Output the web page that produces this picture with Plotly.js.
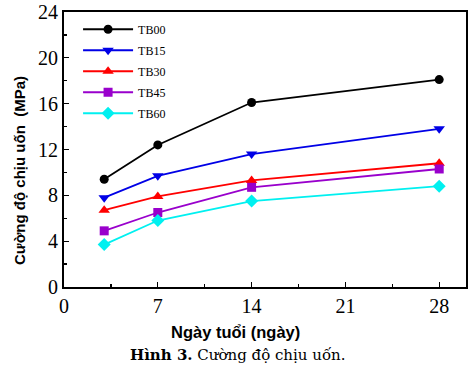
<!DOCTYPE html>
<html>
<head>
<meta charset="utf-8">
<script src="https://cdn.plot.ly/plotly-3.0.1.min.js"></script>
<style>html,body{margin:0;padding:0;background:#fff;}#chart{width:474px;height:369px;}</style>
</head>
<body>
<div id="chart"></div>
<script>
const days = [3, 7, 14, 28];
const seriesNames = ["TB00", "TB15", "TB30", "TB45", "TB60"];
const TB00 = [9.4, 12.4, 16.1, 18.1];
const TB15 = [7.8, 9.7, 11.6, 13.8];
const TB30 = [6.7, 7.9, 9.3, 10.8];
const TB45 = [4.9, 6.5, 8.7, 10.3];
const TB60 = [3.7, 5.8, 7.5, 8.8];
const xTicks = [0, 7, 14, 21, 28];
const yTicks = [0, 4, 8, 12, 16, 20, 24];
const xTitle = "Ngày tuổi (ngày)";
const yTitle = "Cường độ chịu uốn  (MPa)";
const caption = "<b>Hình 3.</b> Cường độ chịu uốn.";

const values = [TB00, TB15, TB30, TB45, TB60];
const colors = ["#000000", "#0000E6", "#FF0000", "#9900CC", "#00F0F0"];
const symbols = ["circle", "triangle-down", "triangle-up", "square", "diamond"];
const sizes = [9, 10, 10, 9, 10];

const traces = seriesNames.map((n, i) => ({
  x: days, y: values[i], name: n, type: "scatter", mode: "lines+markers",
  legendgroup: n,
  line: {color: colors[i], width: 1.8},
  marker: {color: colors[i], symbol: symbols[i], size: sizes[i]}
}));

const serif = "Liberation Serif, Times New Roman, serif";
const sans = "Liberation Sans, Arial, sans-serif";

const layout = {
  width: 474, height: 369,
  margin: {l: 64, r: 8, t: 12, b: 82},
  paper_bgcolor: "#fff", plot_bgcolor: "#fff",
  showlegend: true,
  legend: {x: 0.035, y: 0.99, xanchor: "left", yanchor: "top", bgcolor: "rgba(0,0,0,0)",
    font: {family: serif, size: 12, color: "#000"}, tracegroupgap: 2, itemwidth: 50},
  xaxis: {range: [0, 30], tickvals: xTicks, ticktext: xTicks.map(String),
    ticks: "inside", ticklen: 5, tickwidth: 1.2, tickcolor: "#000",
    minor: {dtick: 3.5, tick0: 0, ticks: "inside", ticklen: 3, tickcolor: "#000", showgrid: false},
    showline: true, linecolor: "#000", linewidth: 2, mirror: true, showgrid: false, zeroline: false,
    tickfont: {family: serif, size: 20, color: "#000"}},
  yaxis: {range: [0, 24], tickvals: yTicks, ticktext: yTicks.map(String),
    ticks: "inside", ticklen: 5, tickwidth: 1.2, tickcolor: "#000",
    minor: {dtick: 2, tick0: 0, ticks: "inside", ticklen: 3, tickcolor: "#000", showgrid: false},
    showline: true, linecolor: "#000", linewidth: 2, mirror: true, showgrid: false, zeroline: false,
    tickfont: {family: serif, size: 20, color: "#000"}},
  annotations: [
    {text: "<b>" + xTitle + "</b>", xref: "paper", yref: "paper",
     x: (235 - 64) / 402, y: -(332 - 287) / 275, xanchor: "center", yanchor: "middle", showarrow: false,
     font: {family: sans, size: 16.5, color: "#000"}},
    {text: "<b>" + yTitle + "</b>", xref: "paper", yref: "paper", textangle: -90,
     x: -(64 - 19) / 402, y: (287 - 171) / 275, xanchor: "center", yanchor: "middle", showarrow: false,
     font: {family: sans, size: 15, color: "#000"}},
    {text: caption, xref: "paper", yref: "paper",
     x: (238 - 64) / 402, y: -(355 - 287) / 275, xanchor: "center", yanchor: "middle", showarrow: false,
     font: {family: "DejaVu Serif, serif", size: 15, color: "#000"}}
  ]
};

Plotly.newPlot("chart", traces, layout, {displayModeBar: false, staticPlot: true});
</script>
</body>
</html>
